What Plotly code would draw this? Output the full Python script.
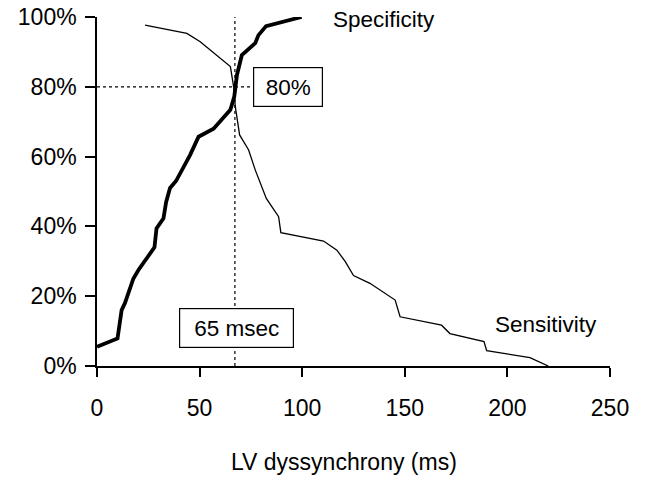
import plotly.graph_objects as go

# Specificity (thick line)
spec_x = [0, 10, 12, 13.6, 17.7, 20.2, 28, 29, 32.4, 33.7, 35.6, 38.5, 45.4, 49.5,
          56.8, 65, 66.9, 68.2, 70.6, 77.1, 78.7, 82.4, 99.7]
spec_y = [5.5, 7.9, 16, 18, 25, 27.5, 34, 39.4, 42.3, 47, 51, 53, 60.5, 65.7,
          68, 73.4, 77.2, 83.4, 89.1, 92.5, 94.8, 97.4, 100]

# Sensitivity (thin line)
sens_x = [23.4, 43.8, 50.3, 65, 66.6, 67.4, 69.5, 73.9, 77.1, 82.5, 88.5, 89.6,
          110.4, 116.9, 121, 125, 133, 145.3, 147.7, 167.9, 172, 188.6, 189.9, 211, 219.9]
sens_y = [97.7, 95.3, 92.9, 85.8, 80, 74.3, 66.2, 61.9, 56.2, 48, 42.8, 38.2,
          35.8, 33.2, 29.9, 25.9, 23.7, 18.9, 14.1, 11.7, 9.3, 7, 4.4, 2.4, 0]

x_ticks = [0, 50, 100, 150, 200, 250]
y_ticks = [0, 20, 40, 60, 80, 100]
y_tick_labels = ["0%", "20%", "40%", "60%", "80%", "100%"]

cutoff_ms = 67.2
cutoff_pct = 80

FONT = "Liberation Sans, Arial, Helvetica, sans-serif"

fig = go.Figure()
fig.add_trace(go.Scatter(x=[cutoff_ms, cutoff_ms], y=[0, 100], mode="lines",
                         line=dict(color="black", width=1.2, dash="dot"),
                         showlegend=False, hoverinfo="skip"))
fig.add_trace(go.Scatter(x=[0, 76], y=[cutoff_pct, cutoff_pct], mode="lines",
                         line=dict(color="black", width=1.2, dash="dot"),
                         showlegend=False, hoverinfo="skip"))
fig.add_trace(go.Scatter(x=sens_x, y=sens_y, mode="lines", name="Sensitivity",
                         line=dict(color="black", width=1.3), showlegend=False))
fig.add_trace(go.Scatter(x=spec_x, y=spec_y, mode="lines", name="Specificity",
                         line=dict(color="black", width=3.8), showlegend=False))

fig.add_annotation(x=114, y=99.4, text="Specificity", showarrow=False,
                   xanchor="left", yanchor="middle", font=dict(size=22.5, color="black"))
fig.add_annotation(x=193, y=12, text="Sensitivity", showarrow=False,
                   xanchor="left", yanchor="middle", font=dict(size=22.5, color="black"))
fig.add_annotation(x=93, y=80, text="80%", showarrow=False,
                   xanchor="center", yanchor="middle", width=68, height=38,
                   borderpad=0, bordercolor="black", borderwidth=1.2, bgcolor="white",
                   font=dict(size=22.5, color="black"))
fig.add_annotation(x=67.8, y=11, text="65 msec", showarrow=False,
                   xanchor="center", yanchor="middle", width=113, height=38,
                   borderpad=0, bordercolor="black", borderwidth=1.2, bgcolor="white",
                   font=dict(size=22.5, color="black"))
# x-axis title
fig.add_annotation(x=0.482, y=-0.275, xref="paper", yref="paper",
                   text="LV dyssynchrony (ms)", showarrow=False,
                   xanchor="center", yanchor="middle", font=dict(size=23, color="black"))

fig.update_layout(
    width=648, height=477,
    margin=dict(l=97, r=38, t=17, b=111, autoexpand=False),
    paper_bgcolor="white", plot_bgcolor="white",
    font=dict(family=FONT, color="black", size=23),
    showlegend=False,
)
fig.update_xaxes(range=[0, 250], tickvals=x_ticks, showgrid=False, zeroline=False,
                 showline=True, linecolor="black", linewidth=1.5, automargin=False,
                 ticks="outside", ticklen=9, tickwidth=1.5, tickcolor="black",
                 ticklabelstandoff=12, tickfont=dict(size=23))
fig.update_yaxes(range=[0, 100], tickvals=y_ticks, ticktext=y_tick_labels,
                 showgrid=False, automargin=False,
                 zeroline=False, showline=True, linecolor="black", linewidth=1.5,
                 ticks="outside", ticklen=10, tickwidth=1.5, tickcolor="black",
                 ticklabelstandoff=4, tickfont=dict(size=23))

fig.write_html("out.html")
